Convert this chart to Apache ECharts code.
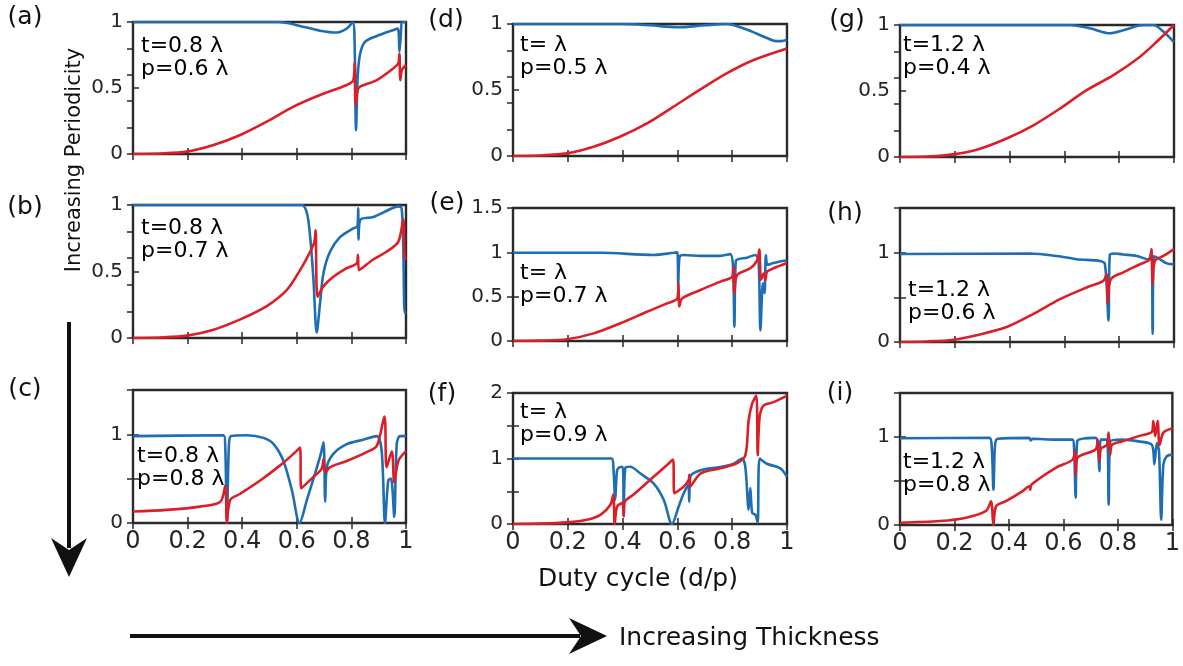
<!DOCTYPE html>
<html>
<head>
<meta charset="utf-8">
<script src="https://cdn.jsdelivr.net/npm/echarts@6.0.0/dist/echarts.min.js"></script>
<style>
html, body { margin: 0; padding: 0; background: #fff; }
#chart { width: 1183px; height: 666px; }
</style>
</head>
<body>
<div id="chart"></div>
<script>
// 数据  x = duty cycle, y = 透射/反射
var aBlue = [[0,1],[0.53,1],[0.57,0.99],[0.612,0.97],[0.685,0.934],[0.746,0.92],[0.783,0.95],[0.805,0.995],[0.811,0.914],[0.817,0.18],[0.823,0.586],[0.832,0.76],[0.85,0.85],[0.893,0.894],[0.954,0.94],[0.97,0.95],[0.976,0.775],[0.982,0.94],[0.985,1],[1,1]];
var aRed = [[0,0],[0.1,0.004],[0.198,0.018],[0.295,0.068],[0.393,0.144],[0.49,0.245],[0.588,0.359],[0.685,0.447],[0.783,0.523],[0.807,0.56],[0.812,0.69],[0.815,0.37],[0.823,0.485],[0.832,0.51],[0.893,0.56],[0.954,0.65],[0.972,0.687],[0.976,0.76],[0.979,0.56],[0.985,0.636],[1,0.674]];

var bBlue = [[0,1],[0.618,1],[0.637,0.94],[0.649,0.76],[0.661,0.44],[0.673,0.04],[0.685,0.26],[0.698,0.49],[0.722,0.65],[0.759,0.76],[0.807,0.825],[0.822,0.84],[0.825,0.975],[0.826,0.74],[0.832,0.8875],[0.88,0.91],[0.93,0.957],[0.972,0.99],[0.984,0.975],[0.99,0.69],[0.995,0.19],[1,0.2]];
var bRed = [[0,0],[0.1,0.004],[0.198,0.018],[0.295,0.0625],[0.393,0.14],[0.49,0.24],[0.563,0.36],[0.612,0.51],[0.643,0.625],[0.664,0.72],[0.669,0.81],[0.676,0.31],[0.698,0.39],[0.734,0.46],[0.783,0.525],[0.82,0.5625],[0.824,0.625],[0.828,0.51],[0.88,0.59],[0.93,0.65],[0.972,0.725],[0.99,0.89],[0.995,0.61],[1,0.59]];

var cBlue = [[0,0.98],[0.332,0.99],[0.338,0.85],[0.344,0.03],[0.351,0.85],[0.359,0.98],[0.417,0.99],[0.478,0.96],[0.515,0.89],[0.551,0.7],[0.582,0.37],[0.61,0],[0.637,0.26],[0.667,0.56],[0.688,0.78],[0.698,0.91],[0.704,0.24],[0.71,0.63],[0.734,0.78],[0.783,0.89],[0.844,0.94],[0.893,0.98],[0.911,0.81],[0.923,0],[0.935,0.48],[0.945,0.5],[0.957,0.07],[0.966,0.89],[0.978,0.98],[1,0.98]];
var cRed = [[0,0.13],[0.124,0.148],[0.246,0.185],[0.32,0.24],[0.338,0.42],[0.344,0],[0.356,0.26],[0.393,0.33],[0.466,0.48],[0.539,0.65],[0.588,0.78],[0.612,0.85],[0.616,0.39],[0.661,0.52],[0.691,0.61],[0.698,0.72],[0.704,0.57],[0.722,0.63],[0.783,0.7],[0.856,0.8],[0.893,0.87],[0.921,1.2],[0.929,0.63],[0.948,0.81],[0.957,0.46],[0.972,0.7],[1,0.81]];

var dBlue = [[0,1],[0.4,1],[0.5,0.99],[0.6,0.975],[0.7,0.99],[0.78,1],[0.85,0.96],[0.92,0.9],[0.96,0.87],[0.98,0.87],[1,0.88]];
var dRed = [[0,0],[0.1,0.004],[0.197,0.02],[0.294,0.07],[0.39,0.146],[0.489,0.247],[0.586,0.374],[0.684,0.505],[0.78,0.626],[0.878,0.727],[1,0.815]];

var eBlue = [[0,0.995],[0.319,0.995],[0.513,0.97],[0.586,0.995],[0.6,1],[0.603,0.63],[0.608,0.95],[0.623,0.97],[0.684,0.96],[0.757,0.96],[0.793,0.98],[0.803,0.84],[0.808,0.16],[0.813,0.9],[0.824,0.925],[0.854,0.94],[0.884,0.97],[0.896,0.91],[0.903,0.12],[0.912,0.65],[0.918,0.54],[0.923,0.97],[0.929,0.86],[0.951,0.88],[1,0.91]];
var eRed = [[0,0],[0.1,0.004],[0.197,0.02],[0.294,0.086],[0.392,0.2],[0.489,0.33],[0.562,0.425],[0.6,0.48],[0.604,0.65],[0.607,0.39],[0.617,0.48],[0.684,0.575],[0.757,0.67],[0.8,0.725],[0.804,0.84],[0.808,0.54],[0.818,0.744],[0.866,0.82],[0.891,0.91],[0.899,1.03],[0.905,0.69],[0.915,0.76],[0.921,0.69],[0.927,0.78],[0.951,0.82],[1,0.88]];

var fBlue = [[0,1],[0.361,1],[0.367,0.82],[0.373,0.37],[0.38,0.82],[0.392,0.87],[0.401,0.87],[0.404,0.12],[0.41,0.86],[0.428,0.875],[0.465,0.77],[0.513,0.62],[0.55,0.37],[0.58,0],[0.605,0.27],[0.623,0.47],[0.641,0.6],[0.643,0.34],[0.647,0.72],[0.684,0.82],[0.757,0.87],[0.805,0.92],[0.836,1],[0.848,0.87],[0.86,0.22],[0.866,0.55],[0.873,0.17],[0.885,0.14],[0.893,0.02],[0.9,1],[0.927,0.92],[0.976,0.85],[1,0.72]];
var fRed = [[0,0],[0.1,0.005],[0.197,0.025],[0.27,0.066],[0.319,0.14],[0.355,0.29],[0.366,0.45],[0.371,0],[0.38,0.27],[0.398,0.32],[0.401,0.33],[0.404,0.12],[0.407,0.33],[0.44,0.45],[0.513,0.72],[0.562,0.9],[0.584,0.985],[0.589,0.47],[0.623,0.57],[0.641,0.67],[0.644,0.75],[0.647,0.57],[0.684,0.77],[0.757,0.85],[0.818,0.93],[0.848,1.05],[0.86,1.58],[0.873,1.84],[0.888,1.96],[0.893,1.05],[0.9,1.63],[0.915,1.81],[0.951,1.86],[1,1.96]];

var gBlue = [[0,1],[0.62,1],[0.693,0.975],[0.766,0.937],[0.815,0.96],[0.888,1],[0.925,1],[0.961,0.95],[1,0.87]];
var gRed = [[0,0],[0.1,0.004],[0.195,0.02],[0.292,0.063],[0.389,0.14],[0.487,0.24],[0.584,0.367],[0.681,0.506],[0.779,0.62],[0.876,0.76],[0.937,0.873],[1,1]];

var hBlue = [[0,0.985],[0.474,0.99],[0.572,0.963],[0.645,0.926],[0.73,0.907],[0.748,0.87],[0.761,0.24],[0.766,0.98],[0.785,0.99],[0.815,0.98],[0.864,0.963],[0.906,0.926],[0.918,1.02],[0.922,0.09],[0.927,0.96],[0.949,0.926],[0.973,0.88],[1,0.87]];
var hRed = [[0,0],[0.1,0.006],[0.195,0.026],[0.292,0.085],[0.389,0.167],[0.487,0.315],[0.584,0.48],[0.681,0.61],[0.742,0.685],[0.754,0.76],[0.758,0.43],[0.769,0.7],[0.815,0.78],[0.876,0.87],[0.912,0.926],[0.918,1.04],[0.922,0.65],[0.93,0.907],[0.961,0.963],[1,1.04]];

var iBlue = [[0,0.985],[0.328,0.99],[0.337,0.875],[0.343,0.4],[0.349,0.91],[0.359,0.98],[0.474,0.99],[0.48,0.96],[0.486,0.98],[0.572,0.97],[0.633,0.97],[0.639,0.875],[0.645,0.31],[0.651,0.95],[0.718,0.99],[0.727,0.875],[0.732,0.61],[0.737,0.97],[0.76,0.97],[0.766,0.23],[0.772,0.95],[0.815,0.97],[0.876,0.95],[0.925,0.91],[0.934,0.69],[0.943,0.93],[0.951,0.84],[0.959,0.06],[0.967,0.69],[0.979,0.78],[1,0.8]];
var iRed = [[0,0.026],[0.146,0.045],[0.243,0.083],[0.316,0.16],[0.334,0.27],[0.343,0],[0.353,0.215],[0.389,0.27],[0.45,0.385],[0.474,0.44],[0.478,0.4],[0.483,0.46],[0.572,0.65],[0.633,0.74],[0.642,0.84],[0.645,0.57],[0.651,0.76],[0.718,0.857],[0.726,0.97],[0.732,0.72],[0.738,0.87],[0.76,0.91],[0.766,1.05],[0.772,0.8],[0.778,0.91],[0.815,0.95],[0.876,1.01],[0.925,1.06],[0.93,1.18],[0.937,1.01],[0.946,1.18],[0.953,0.91],[0.967,1.05],[1,1.1]];

var panelNames = ['(a)', '(b)', '(c)', '(d)', '(e)', '(f)', '(g)', '(h)', '(i)'];
var panelNotes = ['t=0.8 λ\np=0.6 λ', 't=0.8 λ\np=0.7 λ', 't=0.8 λ\np=0.8 λ',
                  't= λ\np=0.5 λ', 't= λ\np=0.7 λ', 't= λ\np=0.9 λ',
                  't=1.2 λ\np=0.4 λ', 't=1.2 λ\np=0.6 λ', 't=1.2 λ\np=0.8 λ'];
var yMax = [1, 1, 1.5, 1, 1.5, 2, 1, 1.5, 1.5];
var yLabels = [[0, 0.5, 1], [0, 0.5, 1], [0, 1], [0, 0.5, 1], [0, 0.5, 1, 1.5], [0, 1, 2], [0, 0.5, 1], [0, 1], [0, 1]];
var xLabels = [0, 0.2, 0.4, 0.6, 0.8, 1];

var blues = [aBlue, bBlue, cBlue, dBlue, eBlue, fBlue, gBlue, hBlue, iBlue];
var reds = [aRed, bRed, cRed, dRed, eRed, fRed, gRed, hRed, iRed];

(function () {
    var myChart = echarts.init(document.getElementById('chart'));

    // 每个面板的框 [left, top, width, height]
    var boxes = [
        [133, 22, 273, 132], [133, 205, 273, 133], [133, 390, 273, 133],
        [513, 24, 274, 132], [513, 208, 274, 133], [513, 393, 274, 131],
        [900, 25, 274, 132], [900, 208, 274, 134], [900, 393, 274, 132]
    ];
    // 标签位置 (a)...(i)
    var namePos = [[25, 17], [25, 207], [25, 389], [446, 20], [447, 203], [442, 394], [847, 20], [845, 213], [840, 393]];
    // 注释: 左边, 中心 y
    var notePos = [[141, 58], [141, 240], [137, 468], [520, 57], [520, 285], [520, 424], [903, 57], [908, 302], [903, 474]];

    var font = 'DejaVu Sans';
    var tickStyle = { color: '#2a2a2a', width: 1.5 };

    var grid = [], xAxis = [], yAxis = [], series = [], graphic = [];

    for (var i = 0; i < 9; i++) {
        var b = boxes[i];
        grid.push({
            left: b[0], top: b[1], width: b[2], height: b[3],
            show: true, borderColor: '#2a2a2a', borderWidth: 2.4, backgroundColor: 'transparent'
        });

        var bottomRow = (i % 3 === 2);
        xAxis.push({
            gridIndex: i, type: 'value', min: 0, max: 1, interval: 0.2, position: 'bottom',
            axisLine: { show: false },
            axisTick: { inside: true, length: 6, lineStyle: tickStyle },
            axisLabel: {
                show: bottomRow, fontSize: 24, fontFamily: font, color: '#262626', margin: 7,
                formatter: function (v) {
                    var r = +v.toFixed(2);
                    return xLabels.indexOf(r) >= 0 ? String(r) : '';
                }
            },
            splitLine: { show: false }
        });
        xAxis.push({
            gridIndex: i, type: 'value', min: 0, max: 1, interval: 0.2, position: 'top',
            axisLine: { show: false },
            axisTick: { inside: true, length: 6, lineStyle: tickStyle },
            axisLabel: { show: false },
            splitLine: { show: false }
        });

        (function (labels) {
            yAxis.push({
                gridIndex: i, type: 'value', min: 0, max: yMax[i], interval: 0.5, position: 'left',
                axisLine: { show: false },
                axisTick: { inside: true, length: 6, lineStyle: tickStyle },
                axisLabel: {
                    fontSize: 20, fontFamily: font, color: '#262626', margin: 10,
                    formatter: function (v) {
                        var r = +v.toFixed(2);
                        return labels.indexOf(r) >= 0 ? String(r) : '';
                    }
                },
                splitLine: { show: false }
            });
        })(yLabels[i]);
        yAxis.push({
            gridIndex: i, type: 'value', min: 0, max: yMax[i], interval: yMax[i] === 1 ? 0.2 : 0.5, position: 'right',
            axisLine: { show: false },
            axisTick: { inside: true, length: 6, lineStyle: tickStyle },
            axisLabel: { show: false },
            splitLine: { show: false }
        });

        series.push({
            type: 'line', xAxisIndex: 2 * i, yAxisIndex: 2 * i, data: blues[i], smooth: 0.3,
            showSymbol: false, symbol: 'none', lineStyle: { color: '#1f6db3', width: 2.6 }, z: 3
        });
        series.push({
            type: 'line', xAxisIndex: 2 * i, yAxisIndex: 2 * i, data: reds[i], smooth: 0.3,
            showSymbol: false, symbol: 'none', lineStyle: { color: '#dc1f26', width: 2.6 }, z: 4
        });

        graphic.push({
            type: 'text', x: namePos[i][0], y: namePos[i][1],
            style: { text: panelNames[i], font: '25px "' + font + '"', fill: '#111', align: 'center', verticalAlign: 'middle' }
        });
        graphic.push({
            type: 'text', x: notePos[i][0], y: notePos[i][1], z: 10,
            style: { text: panelNotes[i], font: '22px "' + font + '"', fill: '#000', align: 'left', verticalAlign: 'middle', lineHeight: 23 }
        });
    }

    // 轴标题和箭头
    graphic.push({
        type: 'text', x: 75, y: 160, rotation: Math.PI / 2,
        style: { text: 'Increasing Periodicity', font: '21px "' + font + '"', fill: '#111', align: 'center', verticalAlign: 'middle' }
    });
    graphic.push({
        type: 'text', x: 638, y: 579,
        style: { text: 'Duty cycle (d/p)', font: '25px "' + font + '"', fill: '#111', align: 'center', verticalAlign: 'middle' }
    });
    graphic.push({
        type: 'text', x: 619, y: 638,
        style: { text: 'Increasing Thickness', font: '25px "' + font + '"', fill: '#111', align: 'left', verticalAlign: 'middle' }
    });
    graphic.push({
        type: 'line', shape: { x1: 69, y1: 322, x2: 69, y2: 548 },
        style: { stroke: '#111', lineWidth: 4 }
    });
    graphic.push({
        type: 'polygon', shape: { points: [[69, 577], [51, 538], [69, 550], [87, 538]] },
        style: { fill: '#111' }
    });
    graphic.push({
        type: 'line', shape: { x1: 130, y1: 636, x2: 580, y2: 636 },
        style: { stroke: '#111', lineWidth: 4 }
    });
    graphic.push({
        type: 'polygon', shape: { points: [[607, 636], [569, 618], [581, 636], [569, 654]] },
        style: { fill: '#111' }
    });

    var option = {
        backgroundColor: '#fff',
        animation: false,
        grid: grid,
        xAxis: xAxis,
        yAxis: yAxis,
        series: series,
        graphic: graphic
    };

    myChart.setOption(option);

    window.addEventListener('resize', function () {
        myChart.resize();
    });
})();
</script>
</body>
</html>
